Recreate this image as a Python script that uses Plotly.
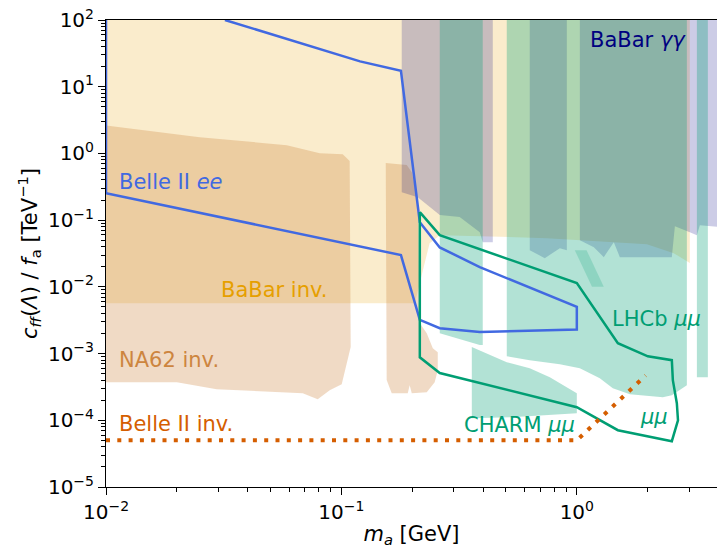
import math
import plotly.graph_objects as go

# ---------------- data (m_a in GeV, coupling in TeV^-1) ----------------
# BaBar invisible (filled, extends to top)
BABAR_INV_M = [0.009, 0.205, 0.222, 0.237, 0.262, 0.746, 1.984, 2.58, 3.02, 3.02, 0.009]
BABAR_INV_C = [5.7e-3, 5.7e-3, 0.0178, 0.0452, 0.0596, 0.0537, 0.0436, 0.032, 0.0227, 200, 200]

# NA62 invisible (two pieces)
NA62_A_M = [0.009, 0.025, 0.0586, 0.0809, 0.1013, 0.1084, 0.1095, 0.1003, 0.0892, 0.0793,
            0.0685, 0.0295, 0.020, 0.009]
NA62_A_C = [2.75, 1.75, 1.33, 1.01, 0.976, 0.767, 1.25e-3, 3.48e-4, 2.83e-4, 2.07e-4,
            2.55e-4, 2.92e-4, 3.73e-4, 3.73e-4]
NA62_B_M = [0.1543, 0.1895, 0.199, 0.211, 0.2153, 0.2304, 0.2444, 0.2566, 0.2566, 0.249,
            0.2304, 0.199, 0.195, 0.1913, 0.1636, 0.1557]
NA62_B_C = [0.716, 0.668, 0.524, 0.2, 2.86e-3, 2.02e-3, 1.2e-3, 1.05e-3, 5.64e-4, 3.73e-4,
            2.64e-4, 2.55e-4, 3.36e-4, 2.55e-4, 2.55e-4, 4.0e-4]

# BaBar gamma gamma (filled to top, three mass windows)
BABAR_GG_1_M = [0.1804, 0.1804, 0.211, 0.2617, 0.318, 0.387, 0.3985, 0.4396, 0.4396]
BABAR_GG_1_C = [200, 0.263, 0.221, 0.119, 0.111, 0.066, 0.0468, 0.0468, 200]
BABAR_GG_2_M = [0.631, 0.631, 0.731, 0.847, 0.907, 0.907]
BABAR_GG_2_C = [200, 0.0355, 0.0269, 0.038, 0.0355, 200]
BABAR_GG_3_M = [1.03, 1.03, 1.181, 1.302, 1.436, 1.523, 2.533, 2.61, 3.02, 3.236, 3.332, 4.5, 4.5]
BABAR_GG_3_C = [200, 0.0501, 0.0394, 0.0279, 0.0468, 0.0279, 0.0279, 0.0813, 0.066, 0.0596,
                0.0841, 0.0759, 200]

# LHCb mu mu (filled)
LHCB_1_M = [0.2617, 0.2617, 0.387, 0.3985, 0.3985]
LHCB_1_C = [200, 2.02e-3, 1.34e-3, 1.34e-3, 200]
LHCB_2_M = [0.504, 0.504, 0.631, 0.847, 1.03, 1.252, 1.422, 1.68, 2.32, 2.533, 2.934, 2.934]
LHCB_2_C = [200, 9.14e-4, 7.96e-4, 6.93e-4, 6.04e-4, 4.28e-4, 3.03e-4, 2.46e-4, 2.22e-4,
            2.38e-4, 3.36e-4, 200]
LHCB_3_M = [0.358, 0.504, 0.631, 0.768, 1.0, 1.0, 0.529, 0.358]
LHCB_3_C = [1.25e-3, 7.43e-4, 6.04e-4, 4.43e-4, 2.55e-4, 1.28e-4, 1.11e-4, 1.07e-4]
LHCB_4_M = [3.236, 3.236, 3.603, 3.603]
LHCB_4_C = [200, 4.43e-4, 4.43e-4, 200]
LHCB_5_M = [0.98, 1.10, 1.302, 1.16]
LHCB_5_C = [0.0355, 0.0355, 0.01, 0.01]

# Belle II ee (outline)
BELLE_EE_M = [0.032, 0.12, 0.179, 0.2153, 0.2617, 0.387, 1.0, 1.0, 0.387, 0.2617, 0.2153,
              0.179, 0.01, 0.01]
BELLE_EE_C = [100, 24, 17.3, 0.093, 0.039, 0.0198, 5.0e-3, 2.3e-3, 2.1e-3, 2.4e-3, 3.2e-3,
              0.030, 0.254, 150]

# LHCb / CHARM mu mu projection (outline)
MUMU_M = [0.2153, 0.2617, 1.0, 1.494, 2.003, 2.533, 2.558, 2.66, 2.69, 2.533, 1.494, 1.0,
          0.2617, 0.2153, 0.2153]
MUMU_C = [0.132, 0.0596, 0.01136, 1.43e-3, 9.1e-4, 7.96e-4, 4.0e-4, 1.8e-4, 1.0e-4, 4.86e-5,
          7.1e-5, 1.57e-4, 5.1e-4, 8.8e-4, 0.132]

# Belle II invisible (dotted)
BELLE_INV_M = [0.01, 1.0, 1.96]
BELLE_INV_C = [5e-5, 5e-5, 4.7e-4]

X_TICKS = [0.01, 0.1, 1]
X_TICKTEXT = ["10<sup>−2</sup>", "10<sup>−1</sup>", "10<sup>0</sup>"]
Y_TICKS = [1e-5, 1e-4, 1e-3, 1e-2, 1e-1, 1, 10, 100]
Y_TICKTEXT = ["10<sup>−5</sup>", "10<sup>−4</sup>", "10<sup>−3</sup>", "10<sup>−2</sup>",
              "10<sup>−1</sup>", "10<sup>0</sup>", "10<sup>1</sup>", "10<sup>2</sup>"]

# ---------------- styles ----------------
CREAM = "rgba(230,159,0,0.2)"
NA62C = "rgba(205,133,63,0.3)"
NAVY = "rgba(0,0,128,0.2)"
TEAL = "rgba(0,158,115,0.3)"
TEAL_LIGHT = "rgba(0,158,115,0.2)"
FONT = "DejaVu Sans"

fig = go.Figure()


def area(xs, ys, color):
    fig.add_trace(go.Scatter(x=xs, y=ys, mode="lines", fill="toself", fillcolor=color,
                             line=dict(width=0), hoverinfo="skip", showlegend=False))


area(BABAR_INV_M, BABAR_INV_C, CREAM)
area(NA62_A_M, NA62_A_C, NA62C)
area(NA62_B_M, NA62_B_C, NA62C)
for xs, ys in [(BABAR_GG_1_M, BABAR_GG_1_C), (BABAR_GG_2_M, BABAR_GG_2_C), (BABAR_GG_3_M, BABAR_GG_3_C)]:
    area(xs, ys, NAVY)
for xs, ys in [(LHCB_1_M, LHCB_1_C), (LHCB_2_M, LHCB_2_C), (LHCB_3_M, LHCB_3_C),
               (LHCB_4_M, LHCB_4_C)]:
    area(xs, ys, TEAL)
area(LHCB_5_M, LHCB_5_C, TEAL_LIGHT)

fig.add_trace(go.Scatter(x=BELLE_EE_M, y=BELLE_EE_C, mode="lines",
                         line=dict(color="#4169E1", width=2.5), hoverinfo="skip", showlegend=False))
fig.add_trace(go.Scatter(x=MUMU_M, y=MUMU_C, mode="lines",
                         line=dict(color="#009E73", width=2.5), hoverinfo="skip", showlegend=False))
fig.add_trace(go.Scatter(x=BELLE_INV_M, y=BELLE_INV_C, mode="lines",
                         line=dict(color="#D55E00", width=4, dash="4px,7.3px"),
                         hoverinfo="skip", showlegend=False))

labels = [
    ("BaBar <i>γγ</i>", 1.114, 50, "#000080"),
    ("Belle II <i>ee</i>", 0.0111, 0.371, "#4169E1"),
    ("BaBar inv.", 0.0301, 8.9e-3, "#E69F00"),
    ("NA62 inv.", 0.0111, 8.0e-4, "#CD853F"),
    ("Belle II inv.", 0.0111, 8.7e-5, "#D55E00"),
    ("LHCb <i>μμ</i>", 1.381, 3.28e-3, "#009E73"),
    ("CHARM <i>μμ</i>", 0.325, 8.45e-5, "#009E73"),
    ("<i>μμ</i>", 1.817, 1.11e-4, "#009E73"),
]
for txt, xv, yv, col in labels:
    fig.add_annotation(x=math.log10(xv), y=math.log10(yv), text=txt, showarrow=False,
                       xanchor="left", yanchor="middle", font=dict(family=FONT, size=21, color=col))


def minor_vals(lo, hi):
    out = []
    for e in range(lo, hi):
        for k in range(2, 10):
            out.append(k * 10.0 ** e)
    return out


axis_common = dict(type="log", showgrid=False, zeroline=False, showline=True, linecolor="black",
                   linewidth=1, ticks="outside", ticklen=7, tickwidth=1, tickcolor="black",
                   tickfont=dict(family=FONT, size=20, color="black"), tickmode="array")

fig.update_xaxes(**axis_common, range=[-2, math.log10(3.94)], mirror=True,
                 tickvals=X_TICKS, ticktext=X_TICKTEXT,
                 minor=dict(ticks="outside", ticklen=4, tickcolor="black", tickmode="array",
                            tickvals=minor_vals(-2, 1), showgrid=False),
                 title=dict(text="<i>m</i><sub><i>a</i></sub> [GeV]",
                            font=dict(family=FONT, size=21, color="black"), standoff=4))
fig.update_yaxes(**axis_common, range=[-5, 2], mirror=False,
                 tickvals=Y_TICKS, ticktext=Y_TICKTEXT,
                 minor=dict(ticks="outside", ticklen=4, tickcolor="black", tickmode="array",
                            tickvals=minor_vals(-5, 2), showgrid=False),
                 title=dict(text="<i>c</i><sub><i>ff</i></sub>(<i>Λ</i>) / <i>f</i><sub>a</sub> [TeV<sup>−1</sup>]",
                            font=dict(family=FONT, size=21, color="black"), standoff=4))

fig.update_layout(width=717, height=548, margin=dict(l=106, r=0, t=20, b=61),
                  paper_bgcolor="white", plot_bgcolor="white", font=dict(family=FONT))

fig.write_html("out.html")
